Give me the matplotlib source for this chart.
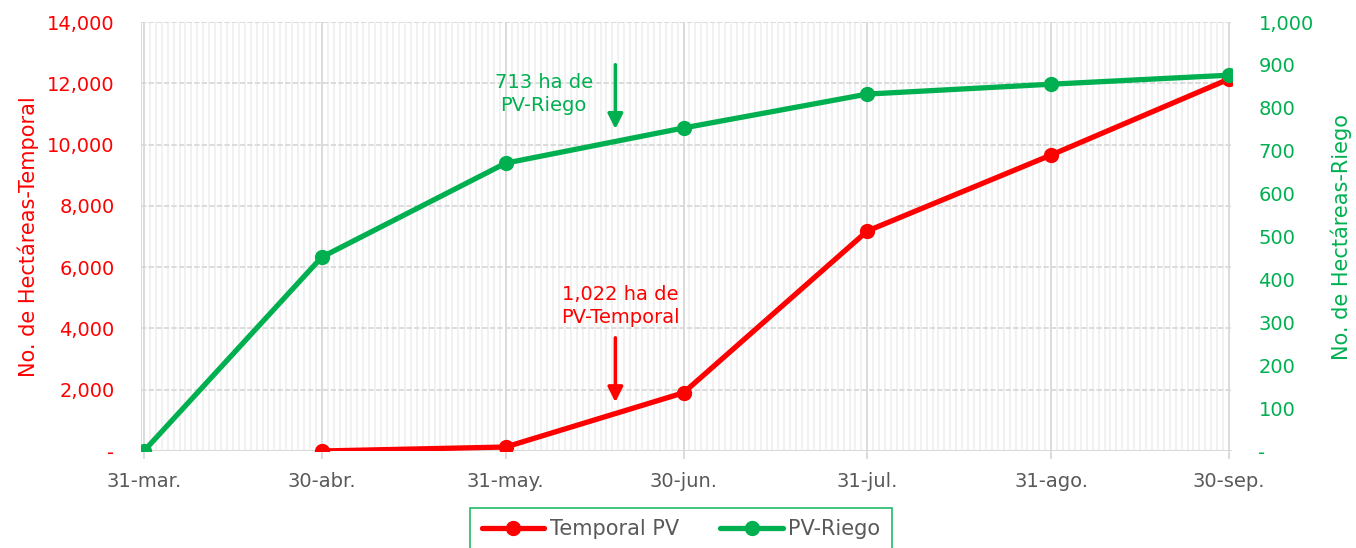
import matplotlib
matplotlib.use("Agg")
import matplotlib.pyplot as plt
import matplotlib.dates as mdates
from matplotlib.ticker import FuncFormatter, MultipleLocator
import datetime as dt

plt.rcParams['font.family'] = ['DejaVu Sans']

dates = ["2023-03-31", "2023-04-30", "2023-05-31", "2023-06-30", "2023-07-31", "2023-08-31", "2023-09-30"]
tick_labels = ["31-mar.", "30-abr.", "31-may.", "30-jun.", "31-jul.", "31-ago.", "30-sep."]
temporal_dates = dates[1:]
temporal = [0, 130, 1900, 7180, 9660, 12140]
riego = [0, 452, 671, 753, 832, 855, 876]

RED = "#FF0000"
GREEN = "#00B050"
GRAY = "#595959"
FS = 14

d = [mdates.date2num(dt.date.fromisoformat(s)) for s in dates]
dt_temp = [mdates.date2num(dt.date.fromisoformat(s)) for s in temporal_dates]

fig = plt.figure(figsize=(13.56, 5.48), dpi=100)
ax1 = fig.add_axes([141/1356, 1-451/548, (1232-141)/1356, (451-22)/548])
ax2 = ax1.twinx()

ax1.set_xlim(d[0]-0.5, d[-1]+0.5)
ax1.set_ylim(0, 14000)
ax2.set_ylim(0, 1000)

# grid
for day in range(int(d[0]), int(d[-1])+1):
    ax1.axvline(day, color="#F0F0F0", lw=1.3, zorder=0)
for x in d:
    ax1.axvline(x, color="#D9D9D9", lw=1.3, zorder=0.5)
for y in range(2000, 14001, 2000):
    ax1.axhline(y, color="#D9D9D9", lw=1.3, ls=(0, (3, 1.2)), zorder=0.5)
ax1.axhline(0, color="#D9D9D9", lw=1.5, zorder=0.5)
ax1.axvline(d[0]-0.5, color="#D9D9D9", lw=1.3, zorder=0.5)

for ax in (ax1, ax2):
    for s in ax.spines.values():
        s.set_visible(False)

ax1.plot(dt_temp, temporal, color=RED, lw=3.8, marker='o', ms=10, label="Temporal PV",
         solid_capstyle='round', zorder=3)
ax2.plot(d, riego, color=GREEN, lw=3.8, marker='o', ms=10, label="PV-Riego",
         solid_capstyle='round', zorder=3)

ax1.set_xticks(d)
ax1.set_xticklabels(tick_labels)
ax1.tick_params(axis='x', length=6, width=1.3, color="#D9D9D9", direction='out', pad=9,
                labelsize=FS, labelcolor=GRAY)
ax1.yaxis.set_major_locator(MultipleLocator(2000))
ax1.yaxis.set_major_formatter(FuncFormatter(lambda v, p: "-" if v == 0 else f"{int(v):,}"))
ax1.tick_params(axis='y', length=0, pad=19, labelsize=FS, labelcolor=RED)
ax2.yaxis.set_major_locator(MultipleLocator(100))
ax2.yaxis.set_major_formatter(FuncFormatter(lambda v, p: "-" if v == 0 else f"{int(v):,}"))
ax2.tick_params(axis='y', length=0, pad=19, labelsize=FS, labelcolor=GREEN)

ax1.set_ylabel("No. de Hectáreas-Temporal", color=RED, fontsize=15, labelpad=6)
ax2.set_ylabel("No. de Hectáreas-Riego", color=GREEN, fontsize=15, labelpad=12)

# annotations
xa = mdates.date2num(dt.date(2023, 6, 18)) + 0.5
ax2.annotate("", xy=(xa, 744), xytext=(xa, 907),
             arrowprops=dict(arrowstyle="-|>,head_length=0.9,head_width=0.45", color=GREEN, lw=2.5))
ax2.text(mdates.date2num(dt.date(2023, 6, 6)) + 0.4, 832, "713 ha de\nPV-Riego", color=GREEN,
         fontsize=FS, ha='center', va='center', linespacing=1.3)
ax1.annotate("", xy=(xa, 1500), xytext=(xa, 3786),
             arrowprops=dict(arrowstyle="-|>,head_length=0.9,head_width=0.45", color=RED, lw=2.5))
ax1.text(mdates.date2num(dt.date(2023, 6, 19)) + 0.4, 4730, "1,022 ha de\nPV-Temporal", color=RED,
         fontsize=FS, ha='center', va='center', linespacing=1.3)

h1, l1 = ax1.get_legend_handles_labels()
h2, l2 = ax2.get_legend_handles_labels()
leg = fig.legend(h1 + h2, l1 + l2, loc='upper center', bbox_to_anchor=(681/1356, 1-508/548),
                 ncol=2, frameon=True, fontsize=15, fancybox=False, borderpad=0.55,
                 borderaxespad=0, handlelength=3.0, columnspacing=2.0, handletextpad=0.25)
leg.get_frame().set_edgecolor(GREEN)
leg.get_frame().set_linewidth(1.3)
for t in leg.get_texts():
    t.set_color(GRAY)

fig.savefig("out.png", dpi=100)
